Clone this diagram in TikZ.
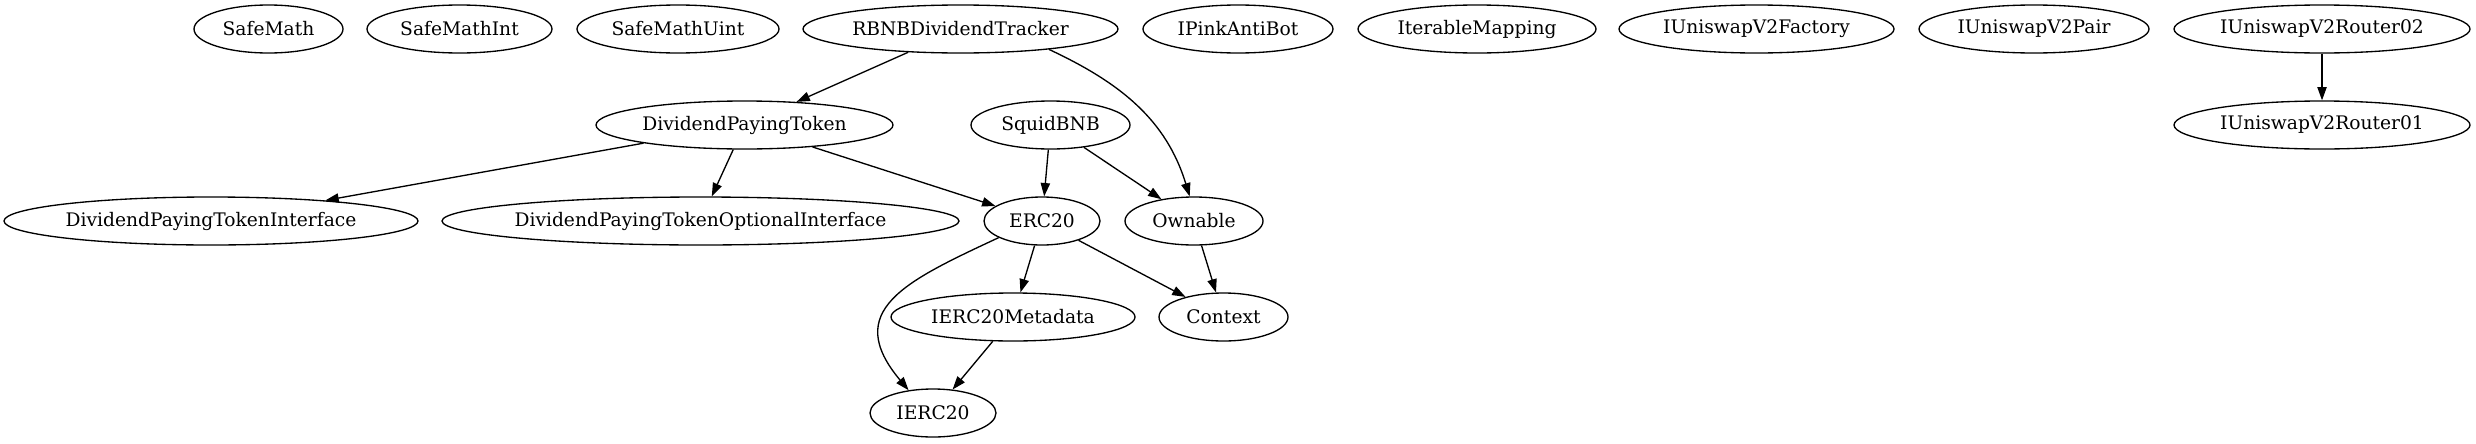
\documentclass[tikz,border=0pt]{standalone}
\usepackage{fontspec}
\setmainfont{DejaVu Serif}
\usetikzlibrary{shapes.geometric,arrows.meta}
\newcommand\cname[1]{\makebox[0pt]{#1}}
\begin{document}
\begin{tikzpicture}[x=0.75pt, y=-0.75pt,
            cls/.style={draw, ellipse, line width=1pt, inner sep=0pt, minimum height=36pt, minimum width=#1*0.75pt, font=\fontsize{14}{16}\selectfont},
            dep/.style={line width=1pt, -{Triangle[length=10pt, width=7pt]}}]
            \useasboundingbox (0,0) rectangle (2476,443);
            \node[cls=149] (safemath) at (268.5,29) {\cname{SafeMath}};
            \node[cls=185] (safemathint) at (459.5,29) {\cname{SafeMathInt}};
            \node[cls=202] (safemathuint) at (678,29) {\cname{SafeMathUint}};
            \node[cls=315] (tracker) at (960.5,29) {\cname{RBNBDividendTracker}};
            \node[cls=190] (antibot) at (1238,29) {\cname{IPinkAntiBot}};
            \node[cls=238] (mapping) at (1477,29) {\cname{IterableMapping}};
            \node[cls=275] (factory) at (1756.5,29) {\cname{IUniswapV2Factory}};
            \node[cls=230] (pair) at (2034,29) {\cname{IUniswapV2Pair}};
            \node[cls=296] (router2) at (2322,29) {\cname{IUniswapV2Router02}};
            \node[cls=297] (dpt) at (744.5,125) {\cname{DividendPayingToken}};
            \node[cls=159] (squid) at (1050.5,125) {\cname{SquidBNB}};
            \node[cls=296] (router1) at (2322,125) {\cname{IUniswapV2Router01}};
            \node[cls=414] (dptiface) at (211,221) {\cname{DividendPayingTokenInterface}};
            \node[cls=517] (dptopt) at (700.5,221) {\cname{DividendPayingTokenOptionalInterface}};
            \node[cls=116] (erc) at (1042,221) {\cname{ERC20}};
            \node[cls=138] (ownable) at (1194,221) {\cname{Ownable}};
            \node[cls=244] (meta) at (1013,317) {\cname{IERC20Metadata}};
            \node[cls=129] (context) at (1223.5,317) {\cname{Context}};
            \node[cls=126] (ierc) at (933,413) {\cname{IERC20}};
            \draw[dep] (tracker) -- (dpt);
            \draw[dep] (tracker.-13) to[out=-25, in=107] (ownable.100);
            \draw[dep] (router2) -- (router1);
            \draw[dep] (dpt) -- (dptiface);
            \draw[dep] (dpt) -- (dptopt);
            \draw[dep] (dpt) -- (erc);
            \draw[dep] (squid) -- (erc);
            \draw[dep] (squid) -- (ownable);
            \draw[dep] (erc.201) to[out=205, in=130, looseness=1.5] (ierc.137);
            \draw[dep] (erc) -- (meta);
            \draw[dep] (erc) -- (context);
            \draw[dep] (ownable) -- (context);
            \draw[dep] (meta) -- (ierc);
        \end{tikzpicture}
\end{document}
